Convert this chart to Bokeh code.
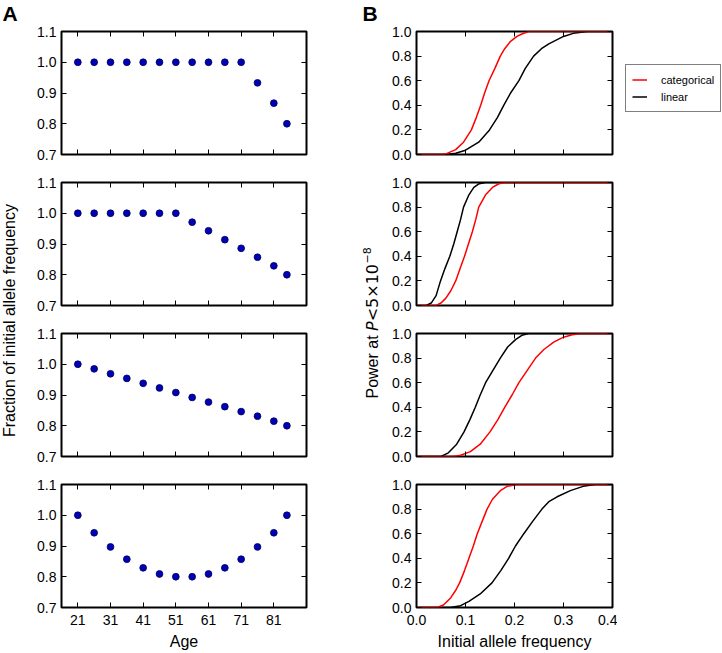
import math
from bokeh.plotting import figure
from bokeh.models import (Range1d, LinearAxis, FixedTicker, PrintfTickFormatter,
                          Label, Legend, LegendItem, CustomLabelingPolicy)
from bokeh.layouts import row, column
from bokeh.embed import file_html
from bokeh.resources import INLINE

# ---------------- data ----------------
ages = [21, 26, 31, 36, 41, 46, 51, 56, 61, 66, 71, 76, 81, 85]
frac_a1 = [1.0, 1.0, 1.0, 1.0, 1.0, 1.0, 1.0, 1.0, 1.0, 1.0, 1.0, 0.933, 0.867, 0.80]
frac_a2 = [1.0, 1.0, 1.0, 1.0, 1.0, 1.0, 1.0, 0.971, 0.943, 0.914, 0.886, 0.857, 0.829, 0.80]
frac_a3 = [1.0, 0.985, 0.969, 0.954, 0.938, 0.923, 0.908, 0.892, 0.877, 0.862, 0.846, 0.831, 0.815, 0.80]
frac_a4 = [1.0, 0.943, 0.897, 0.857, 0.829, 0.809, 0.80, 0.80, 0.809, 0.829, 0.857, 0.897, 0.943, 1.0]
age_ticks = [21, 31, 41, 51, 61, 71, 81]
frac_ticks = [0.7, 0.8, 0.9, 1.0, 1.1]

freq_ticks = [0.0, 0.1, 0.2, 0.3, 0.4]
power_ticks = [0.0, 0.2, 0.4, 0.6, 0.8, 1.0]

# panel 1
cat1_x = [0, 0.05, 0.06, 0.08, 0.096, 0.112, 0.122, 0.131, 0.139, 0.148, 0.16, 0.171, 0.18, 0.192, 0.205, 0.215, 0.229, 0.4]
cat1_y = [0, 0, 0.005, 0.04, 0.1, 0.2, 0.3, 0.4, 0.5, 0.6, 0.7, 0.8, 0.86, 0.92, 0.96, 0.98, 1.0, 1.0]
lin1_x = [0, 0.06, 0.08, 0.1, 0.127, 0.149, 0.165, 0.178, 0.192, 0.209, 0.222, 0.239, 0.255, 0.27, 0.30, 0.32, 0.349, 0.4]
lin1_y = [0, 0, 0.01, 0.035, 0.1, 0.2, 0.3, 0.4, 0.5, 0.6, 0.7, 0.8, 0.86, 0.9, 0.96, 0.985, 1.0, 1.0]
# panel 2
cat2_x = [0, 0.04, 0.05, 0.06, 0.07, 0.08, 0.089, 0.098, 0.106, 0.114, 0.121, 0.127, 0.141, 0.155, 0.168, 0.182, 0.4]
cat2_y = [0, 0, 0.02, 0.06, 0.12, 0.2, 0.3, 0.4, 0.5, 0.6, 0.7, 0.8, 0.9, 0.96, 0.99, 1.0, 1.0]
lin2_x = [0, 0.02, 0.03, 0.04, 0.049, 0.058, 0.068, 0.076, 0.083, 0.09, 0.096, 0.107, 0.117, 0.128, 0.141, 0.4]
lin2_y = [0, 0, 0.02, 0.08, 0.2, 0.3, 0.4, 0.5, 0.6, 0.7, 0.8, 0.9, 0.96, 0.99, 1.0, 1.0]
# panel 3
cat3_x = [0, 0.075, 0.09, 0.11, 0.13, 0.15, 0.166, 0.18, 0.195, 0.209, 0.226, 0.243, 0.26, 0.28, 0.30, 0.318, 0.335, 0.4]
cat3_y = [0, 0, 0.01, 0.04, 0.1, 0.2, 0.3, 0.4, 0.5, 0.6, 0.7, 0.8, 0.87, 0.93, 0.97, 0.99, 1.0, 1.0]
lin3_x = [0, 0.05, 0.065, 0.082, 0.097, 0.109, 0.12, 0.13, 0.141, 0.156, 0.171, 0.186, 0.202, 0.215, 0.229, 0.4]
lin3_y = [0, 0, 0.03, 0.1, 0.2, 0.3, 0.4, 0.5, 0.6, 0.7, 0.8, 0.89, 0.95, 0.985, 1.0, 1.0]
# panel 4
cat4_x = [0, 0.042, 0.055, 0.07, 0.08, 0.088, 0.098, 0.107, 0.116, 0.124, 0.134, 0.144, 0.155, 0.171, 0.185, 0.205, 0.4]
cat4_y = [0, 0, 0.02, 0.08, 0.14, 0.2, 0.3, 0.4, 0.5, 0.6, 0.7, 0.8, 0.88, 0.95, 0.985, 1.0, 1.0]
lin4_x = [0, 0.069, 0.09, 0.107, 0.13, 0.154, 0.172, 0.188, 0.202, 0.219, 0.237, 0.256, 0.27, 0.287, 0.314, 0.34, 0.365, 0.4]
lin4_y = [0, 0, 0.015, 0.05, 0.11, 0.2, 0.3, 0.4, 0.5, 0.6, 0.7, 0.8, 0.86, 0.9, 0.95, 0.985, 1.0, 1.0]

legend_labels = ["categorical", "linear"]
legend_colors = ["red", "black"]

frac_series = [frac_a1, frac_a2, frac_a3, frac_a4]
power_series = [(cat1_x, cat1_y, lin1_x, lin1_y),
                (cat2_x, cat2_y, lin2_x, lin2_y),
                (cat3_x, cat3_y, lin3_x, lin3_y),
                (cat4_x, cat4_y, lin4_x, lin4_y)]

FONT = "Liberation Sans"
MATH = "DejaVu Sans"
TOTAL_H = 653
heights = [168, 151, 151, 183]
tops = [31, 14, 14, 14]
bottoms = [14, 14, 14, 46]

NO_LABELS = CustomLabelingPolicy(code="return new Set()")


def add_axes(p, xticks, yticks, xfmt, yfmt, show_x, xlabel=None):
    specs = [("below", xticks, xfmt, show_x), ("above", xticks, xfmt, False),
             ("left", yticks, yfmt, True), ("right", yticks, yfmt, False)]
    for loc, ticks, fmt, show in specs:
        ax = LinearAxis(ticker=FixedTicker(ticks=ticks, minor_ticks=[]),
                        formatter=PrintfTickFormatter(format=fmt))
        ax.axis_line_color = None
        ax.major_tick_in = 5
        ax.major_tick_out = 0
        ax.major_tick_line_color = "black"
        ax.major_tick_line_width = 1
        ax.minor_tick_line_color = None
        if show:
            ax.major_label_text_font = FONT
            ax.major_label_text_font_size = "14px"
            ax.major_label_text_color = "black"
            ax.major_label_standoff = 5 if loc == "left" else 7
        else:
            ax.major_label_policy = NO_LABELS
            ax.major_label_text_font_size = "1px"
            ax.major_label_standoff = 0
        if loc == "below" and xlabel:
            ax.axis_label = xlabel
            ax.axis_label_text_font = FONT
            ax.axis_label_text_font_size = "16px"
            ax.axis_label_text_font_style = "normal"
            ax.axis_label_text_color = "black"
            ax.axis_label_standoff = 5
        p.add_layout(ax, loc)


def base_fig(w, h, xr, yr, bl, br, bt, bb):
    p = figure(width=w, height=h, x_range=xr, y_range=yr,
               x_axis_location=None, y_axis_location=None,
               toolbar_location=None, output_backend="svg",
               min_border_left=bl, min_border_right=br,
               min_border_top=bt, min_border_bottom=bb)
    p.grid.visible = False
    p.outline_line_color = "black"
    p.outline_line_width = 2
    p.background_fill_color = "white"
    p.border_fill_color = "white"
    return p


left_figs = []
right_figs = []
for i in range(4):
    last = (i == 3)
    pl = base_fig(281, heights[i], Range1d(16, 91), Range1d(0.7, 1.1), 31, 5, tops[i], bottoms[i])
    pl.scatter(ages, frac_series[i], size=6.8, fill_color="#0000b4", line_color="#00005a", line_width=0.8)
    add_axes(pl, age_ticks, frac_ticks, "%d", "%.1f", last, "Age" if last else None)
    left_figs.append(pl)

    pr = base_fig(236, heights[i], Range1d(0, 0.4), Range1d(0, 1.0), 35, 5, tops[i], bottoms[i])
    cx, cy, lx, ly = power_series[i]
    pr.line(lx, ly, line_color="black", line_width=1.5)
    pr.line(cx, cy, line_color="red", line_width=1.5)
    add_axes(pr, freq_ticks, power_ticks, "%.1f", "%.1f", last,
             "Initial allele frequency" if last else None)
    right_figs.append(pr)


def label_fig(w):
    p = figure(width=w, height=TOTAL_H, x_range=Range1d(0, 1), y_range=Range1d(0, 1),
               x_axis_location=None, y_axis_location=None,
               toolbar_location=None, output_backend="svg", min_border=0)
    p.grid.visible = False
    p.outline_line_color = None
    p.background_fill_color = "white"
    p.border_fill_color = "white"
    return p


labL = label_fig(30)
labL.add_layout(Label(x=2, y=TOTAL_H - 1, x_units="screen", y_units="screen", text="A",
                      text_font=FONT, text_font_size="21px", text_font_style="bold",
                      text_baseline="top", text_align="left", text_color="black"))
labL.add_layout(Label(x=9, y=TOTAL_H - 320, x_units="screen", y_units="screen",
                      text="Fraction of initial allele frequency", angle=math.pi / 2,
                      text_font=FONT, text_font_size="16px", text_baseline="middle",
                      text_align="center", text_color="black"))

labR = label_fig(70)
labR.add_layout(Label(x=51, y=TOTAL_H - 1, x_units="screen", y_units="screen", text="B",
                      text_font=FONT, text_font_size="21px", text_font_style="bold",
                      text_baseline="top", text_align="left", text_color="black"))
ylab_x = 61
ylab_parts = [("Power at ", FONT, "normal", "16px", 398, 0),
              ("P", MATH, "italic", "16px", 330.4, 0),
              ("<5\u00d710", MATH, "normal", "16px", 320.8, 0),
              ("\u22128", MATH, "normal", "11px", 263, -6)]
for txt, fnt, style, size, yimg, dx in ylab_parts:
    labR.add_layout(Label(x=ylab_x + dx, y=TOTAL_H - yimg, x_units="screen", y_units="screen",
                          text=txt, angle=math.pi / 2, text_font=fnt,
                          text_font_size=size, text_font_style=style,
                          text_baseline="middle", text_align="left", text_color="black"))

# legend lives in its own narrow panel to the right of panel B;
# its renderers hold a single NaN point so they draw nothing in the panel
legf = label_fig(105)
leg_items = []
for lab, col in zip(legend_labels, legend_colors):
    r = legf.line([float("nan")], [float("nan")], line_color=col, line_width=1.5)
    leg_items.append(LegendItem(label=lab, renderers=[r]))
leg = Legend(items=leg_items, location=(8, TOTAL_H - 112))
leg.border_line_color = "black"
leg.border_line_width = 1.5
leg.background_fill_color = "white"
leg.background_fill_alpha = 1
leg.label_text_font = FONT
leg.label_text_font_size = "11px"
leg.label_text_color = "black"
leg.glyph_width = 15
leg.glyph_height = 17
leg.label_height = 17
leg.spacing = 0
leg.padding = 6
leg.label_standoff = 14
leg.margin = 0
legf.add_layout(leg)

layout = row(labL, column(*left_figs), labR, column(*right_figs), legf)

open("out.html", "w").write(file_html(layout, INLINE))
